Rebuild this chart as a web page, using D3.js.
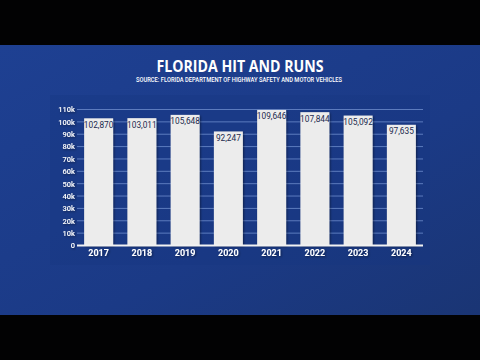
<!DOCTYPE html>
<html><head><meta charset="utf-8">
<script src="https://cdn.jsdelivr.net/npm/d3@7"></script>
<style>html,body{margin:0;padding:0;background:#000;}svg{display:block;}</style>
</head><body>
<svg id="c" width="480" height="360"></svg>
<script>
const years = ["2017","2018","2019","2020","2021","2022","2023","2024"];
const values = [102870,103011,105648,92247,109646,107844,105092,97635];
const yTicks = [0,10000,20000,30000,40000,50000,60000,70000,80000,90000,100000,110000];
const title = "FLORIDA HIT AND RUNS";
const subtitle = "SOURCE: FLORIDA DEPARTMENT OF HIGHWAY SAFETY AND MOTOR VEHICLES";

const svg = d3.select("#c");
const defs = svg.append("defs");
const bg = defs.append("linearGradient").attr("id","bg").attr("x1","0").attr("y1","0").attr("x2","1").attr("y2","1");
bg.append("stop").attr("offset","0").attr("stop-color","#1e4092");
bg.append("stop").attr("offset","0.6").attr("stop-color","#1b3a86");
bg.append("stop").attr("offset","1").attr("stop-color","#1a3574");
const flt = defs.append("filter").attr("id","sh").attr("x","-20%").attr("y","-20%").attr("width","140%").attr("height","140%");
flt.append("feDropShadow").attr("dx",1).attr("dy",1).attr("stdDeviation",1.2).attr("flood-color","#000").attr("flood-opacity",0.45);

svg.append("rect").attr("width",480).attr("height",360).attr("fill","#020203");
svg.append("rect").attr("x",0).attr("y",45).attr("width",480).attr("height",270).attr("fill","url(#bg)");
// panel
svg.append("rect").attr("x",50).attr("y",95).attr("width",380).attr("height",170).attr("fill","#183781").attr("opacity",0.35);

svg.append("text").attr("x",240).attr("y",72).attr("text-anchor","middle")
  .attr("font-family","'Open Sans', Roboto, sans-serif").attr("font-weight","bold").attr("font-size",15.5)
  .attr("fill","#fff").attr("textLength",167).attr("lengthAdjust","spacingAndGlyphs").text(title);
svg.append("text").attr("x",239).attr("y",81.5).attr("text-anchor","middle")
  .attr("font-family","Roboto, 'Open Sans', sans-serif").attr("font-weight","500").attr("font-size",7)
  .attr("fill","#fff").attr("textLength",206).attr("lengthAdjust","spacingAndGlyphs").text(subtitle);

const x0 = 77, x1 = 423, yTop = 109.5, yBot = 245.5;
const x = d3.scaleBand().domain(years).range([x0,x1]).paddingInner(0.33).paddingOuter(0.165);
const y = d3.scaleLinear().domain([0,110000]).range([yBot,yTop]);

const g = svg.append("g");
// gridlines
g.selectAll("line.grid").data(yTicks.filter(d=>d>0)).join("line").attr("class","grid")
  .attr("x1",x0).attr("x2",x1).attr("y1",d=>y(d)).attr("y2",d=>y(d))
  .attr("stroke","#6d8ccc").attr("stroke-width",1).attr("opacity",0.8);

// y axis labels
const yAxis = d3.axisLeft(y).tickValues(yTicks).tickSize(0).tickPadding(2)
  .tickFormat(d=> d===0 ? "0" : (d/1000)+"k");
const ya = g.append("g").attr("transform",`translate(${x0},0)`).call(yAxis);
ya.select(".domain").remove();
ya.selectAll("text").attr("fill","#fff").attr("font-family","Roboto, sans-serif").attr("font-size",7.5)
  .attr("font-weight","500").attr("filter","url(#sh)");

// bars
g.selectAll("rect.bar").data(values).join("rect").attr("class","bar")
  .attr("x",(d,i)=>x(years[i])).attr("width",x.bandwidth())
  .attr("y",d=>y(d)).attr("height",d=>yBot-y(d))
  .attr("fill","#ececec").attr("filter","url(#sh)");

// value labels
g.selectAll("text.val").data(values).join("text").attr("class","val")
  .attr("x",(d,i)=>x(years[i])+x.bandwidth()/2).attr("y",d=>y(d)+9.5)
  .attr("text-anchor","middle").attr("font-family","Roboto, sans-serif").attr("font-size",8.3)
  .attr("fill","#1b2a4e").text(d=>d3.format(",")(d));

// x axis baseline
g.append("line").attr("x1",x0).attr("x2",x1).attr("y1",yBot).attr("y2",yBot)
  .attr("stroke","#f2f2f2").attr("stroke-width",2);

const xAxis = d3.axisBottom(x).tickSize(0).tickPadding(4);
const xa = g.append("g").attr("transform",`translate(0,${yBot})`).call(xAxis);
xa.select(".domain").remove();
xa.selectAll("text").attr("fill","#fff").attr("font-family","Roboto, sans-serif").attr("font-size",9)
  .attr("font-weight","bold").attr("filter","url(#sh)");
</script>
</body></html>
